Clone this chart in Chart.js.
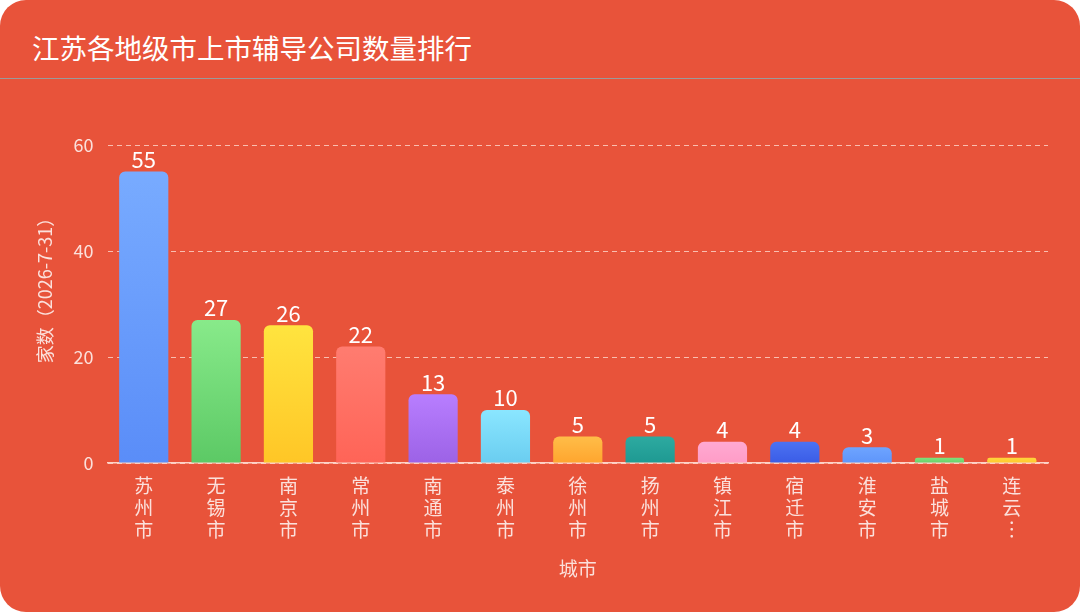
<!DOCTYPE html>
<html>
<head>
<meta charset="utf-8">
<script src="https://cdn.jsdelivr.net/npm/chart.js@4/dist/chart.umd.min.js"></script>
<style>
  html, body { margin: 0; padding: 0; background: #fff; }
  .card {
    width: 1080px; height: 612px; background: #E8533A;
    border-radius: 26px; overflow: hidden; position: relative;
    font-family: "Noto Sans CJK SC", "Noto Sans", sans-serif;
  }
  .head {
    height: 78px; line-height: 94px; border-bottom: 1px solid #9a9a9a;
    color: #fff; font-size: 27.5px; padding-left: 32px; overflow: hidden;
  }
  .wrap { position: absolute; left: 0; top: 79px; width: 1080px; height: 533px; }
</style>
</head>
<body>
<div class="card">
  <div class="head">江苏各地级市上市辅导公司数量排行</div>
  <div class="wrap"><canvas id="chart"></canvas></div>
</div>
<script>
const cities = ['苏州市', '无锡市', '南京市', '常州市', '南通市', '泰州市', '徐州市',
                '扬州市', '镇江市', '宿迁市', '淮安市', '盐城市', '连云港市'];
const counts = [55, 27, 26, 22, 13, 10, 5, 5, 4, 4, 3, 1, 1];
const yTicks = [0, 20, 40, 60];
const yTitle = '家数（2026-7-31）';
const xTitle = '城市';

// top / bottom colour of each bar's gradient
const topColors = ['#78ABFF', '#88EA8A', '#FFE43F', '#FF7C70', '#B87EFF', '#8AE6FF', '#FFBD48',
                   '#2DAAA0', '#FFA9D2', '#4C72F2', '#6EA4FF', '#80E27C', '#FFD63C'];
const bottomColors = ['#5A8DF8', '#5CC965', '#FFC626', '#FF6457', '#9C62E6', '#6ACDF0', '#FFA52E',
                      '#1E9992', '#FF9CC6', '#3A5CE6', '#5E95FA', '#66CF68', '#FFC92C'];

const textColor = 'rgba(255,255,255,0.82)';
const font = '"Noto Sans CJK SC", "Noto Sans", sans-serif';

function barGradient(context) {
    const chart = context.chart;
    const {ctx, chartArea, scales} = chart;
    if (!chartArea) return topColors[context.dataIndex];
    const v = counts[context.dataIndex];
    const yTop = scales.y.getPixelForValue(v);
    const yBot = scales.y.getPixelForValue(0);
    const g = ctx.createLinearGradient(0, yTop, 0, yBot);
    g.addColorStop(0, topColors[context.dataIndex]);
    g.addColorStop(1, bottomColors[context.dataIndex]);
    return g;
}

// value labels above bars
const valueLabels = {
    id: 'valueLabels',
    afterDatasetsDraw(chart) {
        const ctx = chart.ctx;
        const meta = chart.getDatasetMeta(0);
        ctx.save();
        ctx.fillStyle = '#ffffff';
        ctx.font = '22px ' + font;
        ctx.textAlign = 'center';
        ctx.textBaseline = 'bottom';
        meta.data.forEach((bar, i) => {
            ctx.fillText(String(counts[i]), bar.x, bar.y - 1);
        });
        ctx.restore();
    }
};

// vertical label, one char per line, long names cut with an ellipsis
function tickLines(name) {
    const chars = Array.from(name);
    if (chars.length > 3) return [chars[0], chars[1], '︙'];
    return chars;
}

new Chart(document.getElementById('chart').getContext('2d'), {
    type: 'bar',
    data: {
        labels: cities,
        datasets: [{
            data: counts,
            backgroundColor: barGradient,
            borderRadius: 6,
            borderSkipped: 'start',
            categoryPercentage: 0.68,
            barPercentage: 1
        }]
    },
    options: {
        responsive: true,
        maintainAspectRatio: false,
        animation: false,
        layout: { padding: { top: 66, right: 32, left: 30, bottom: 18 } },
        plugins: {
            legend: { display: false },
            tooltip: { enabled: false }
        },
        scales: {
            x: {
                grid: { display: false, drawTicks: false },
                border: { display: true, color: 'rgba(255,225,215,0.9)', width: 1.5 },
                ticks: {
                    color: textColor,
                    font: { family: font, size: 19, lineHeight: 1.16 },
                    padding: 12,
                    maxRotation: 0,
                    autoSkip: false,
                    callback: function(value, index) { return tickLines(cities[index]); }
                },
                title: {
                    display: true, text: xTitle, color: textColor,
                    font: { family: font, size: 19 }, padding: { top: 4, bottom: 14 }
                }
            },
            y: {
                min: 0, max: 60,
                afterBuildTicks: function(axis) { axis.ticks = yTicks.map(v => ({ value: v })); },
                grid: {
                    color: 'rgba(255,225,215,0.75)', drawTicks: false, lineWidth: 1
                },
                border: { display: false, dash: [5, 4] },
                ticks: {
                    color: textColor,
                    font: { family: font, size: 18 },
                    padding: 14
                },
                title: {
                    display: true, text: '\u3000\u3000' + yTitle, color: textColor,
                    font: { family: font, size: 18 }, padding: { bottom: 4 }
                }
            }
        }
    },
    plugins: [valueLabels]
});
</script>
</body>
</html>
